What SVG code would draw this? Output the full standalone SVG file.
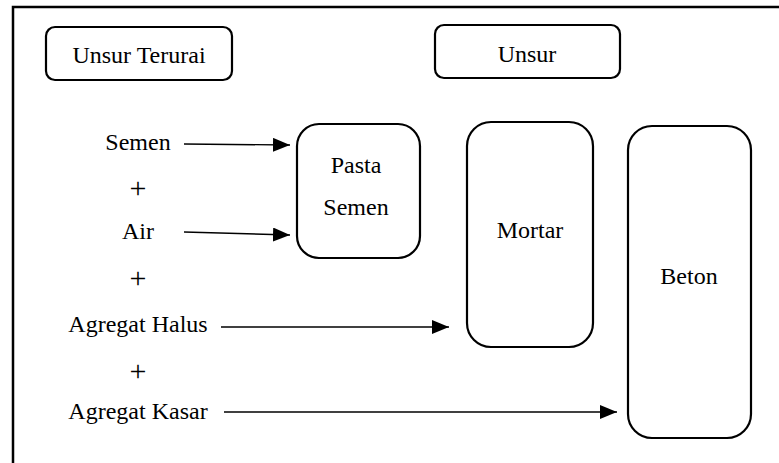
<svg xmlns="http://www.w3.org/2000/svg" width="779" height="463" viewBox="0 0 779 463">
<style>
.box{fill:#fff;stroke:#000;stroke-width:2.2}
.t{font-family:'Liberation Serif',Tinos,'Times New Roman',Times,'DejaVu Serif',serif;font-size:24px;fill:#000;text-anchor:middle}
.p{font-size:30px}
.c{stroke:#000;stroke-width:1.4;fill:none}
</style>
<defs>
<marker id="ah" markerWidth="17" markerHeight="14" refX="17" refY="7" orient="auto" markerUnits="userSpaceOnUse">
<path d="M0,0 L17,7 L0,14 Z" fill="#000"/>
</marker>
</defs>
<rect x="0" y="0" width="779" height="463" fill="#fff"/>
<rect x="13" y="7" width="800" height="500" fill="none" stroke="#000" stroke-width="2.5"/>
<g id="unsur-terurai"><rect class="box" x="46" y="27" width="186" height="53" rx="9"/><text class="t" x="139" y="63">Unsur Terurai</text></g>
<g id="unsur"><rect class="box" x="435" y="25" width="185" height="53" rx="9"/><text class="t" x="527" y="62">Unsur</text></g>
<g id="semen"><text class="t" x="138" y="150">Semen</text></g>
<g id="plus1"><text class="t p" x="138" y="198">+</text></g>
<g id="air"><text class="t" x="138" y="239">Air</text></g>
<g id="plus2"><text class="t p" x="138" y="288">+</text></g>
<g id="agregat-halus"><text class="t" x="138" y="332">Agregat Halus</text></g>
<g id="plus3"><text class="t p" x="138" y="381">+</text></g>
<g id="agregat-kasar"><text class="t" x="138" y="419">Agregat Kasar</text></g>
<g id="pasta-semen"><rect class="box" x="297" y="124" width="123" height="134" rx="22"/><text class="t" x="356" y="173">Pasta</text><text class="t" x="356" y="215">Semen</text></g>
<g id="mortar"><rect class="box" x="467" y="122" width="126" height="225" rx="24"/><text class="t" x="530" y="238">Mortar</text></g>
<g id="beton"><rect class="box" x="628" y="126" width="123" height="312" rx="24"/><text class="t" x="689" y="284">Beton</text></g>
<g id="connectors">
<line class="c" x1="184" y1="144" x2="290" y2="145" marker-end="url(#ah)"/>
<line class="c" x1="184" y1="232" x2="290" y2="235" marker-end="url(#ah)"/>
<line class="c" x1="221" y1="327" x2="449" y2="327" marker-end="url(#ah)"/>
<line class="c" x1="224" y1="412" x2="617" y2="412" marker-end="url(#ah)"/>
</g>
</svg>
